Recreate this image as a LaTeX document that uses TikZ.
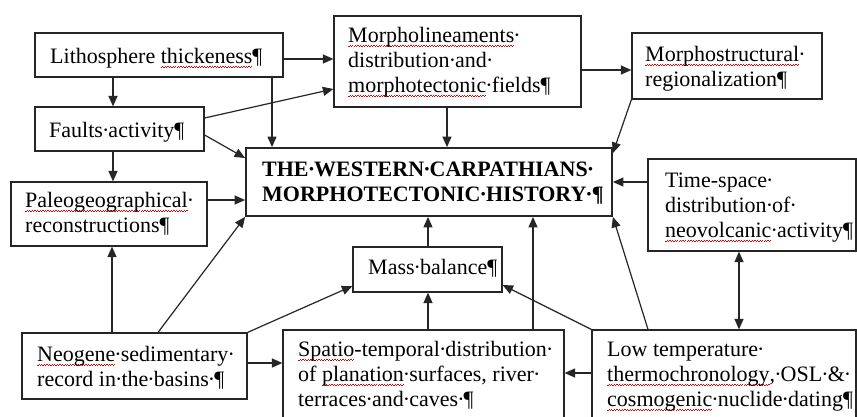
\documentclass[tikz,border=0pt]{standalone}
\usepackage{fontspec}
\setmainfont{Liberation Serif}
\usetikzlibrary{arrows.meta}
\newcommand{\sd}{\makebox[0.25em]{·}}
\newcommand{\pil}{¶}
\newcommand{\mlines}[1]{\begin{tabular}[t]{@{}l@{}}#1\end{tabular}}
\newsavebox{\rwbox}
\newcommand{\wavepiece}{\hbox{\rule[0pt]{1.3pt}{0.7pt}\rule[0.9pt]{1.3pt}{0.7pt}}}
\newcommand{\rw}[1]{\sbox{\rwbox}{#1}\rlap{\raisebox{-4.2pt}[0pt][0pt]{\hbox to\wd\rwbox{\color{red!90!black}\xleaders\wavepiece\hfil}}}\usebox{\rwbox}}
\begin{document}
\begin{tikzpicture}[x=1pt,y=-1pt,
  box/.style={draw=black!85, line width=1.2pt, rectangle, inner sep=0pt},
  mainbox/.style={box, line width=1.8pt},
  txt/.style={font=\fontsize{22}{25.3}\selectfont, anchor=base west, inner sep=0pt},
  arr/.style={draw=black!85, line width=1.2pt, -{Triangle[length=10.5pt,width=9pt]}},
  darr/.style={draw=black!85, line width=1.2pt, {Triangle[length=10.5pt,width=9pt]}-{Triangle[length=10.5pt,width=9pt]}}]
\useasboundingbox (0,0) rectangle (857,416);
\clip (0,0) rectangle (857,416);
\fill[white] (0,0) rectangle (857,416);
% boxes
\node[box, minimum width=248pt, minimum height=44pt] (litho) at (159,55) {};
\node[box, minimum width=169pt, minimum height=44pt] (faults) at (119.5,129) {};
\node[box, minimum width=196pt, minimum height=64pt] (paleo) at (109,214) {};
\node[box, minimum width=247pt, minimum height=91pt] (morpho) at (457.5,61.5) {};
\node[mainbox, minimum width=366pt, minimum height=68pt] (central) at (429,182) {};
\node[box, minimum width=190pt, minimum height=66pt] (mstruct) at (727,66) {};
\node[box, minimum width=208pt, minimum height=92pt] (timesp) at (752,205) {};
\node[box, minimum width=149pt, minimum height=45pt] (mass) at (427.5,269.5) {};
\node[box, minimum width=225pt, minimum height=66pt] (neogene) at (134.5,366) {};
\node[box, minimum width=281pt, minimum height=110pt] (spatio) at (423.5,385) {};
\node[box, minimum width=264pt, minimum height=110pt] (lowt) at (724,385) {};
% texts
\node[txt] (tlitho) at (50,63) {Lithosphere \rw{thickeness}\pil};
\node[txt] (tfaults) at (49,137) {Faults\sd activity\pil};
\node[txt] (tpaleo) at (25,207) {\mlines{\rw{Paleogeographical}\sd\\reconstructions\pil}};
\node[txt] (tmorpho) at (348,42) {\mlines{\rw{Morpholineaments}\sd\\distribution\sd and\sd\\\rw{morphotectonic}\sd fields\pil}};
\node[txt, font=\fontsize{22}{25.3}\selectfont\bfseries] (tcentral) at (262,176) {\mlines{THE\sd WESTERN\sd CARPATHIANS\sd\\MORPHOTECTONIC\sd HISTORY\sd\pil}};
\node[txt] (tmstruct) at (645,61) {\mlines{\rw{Morphostructural}\sd\\regionalization\pil}};
\node[txt] (ttimesp) at (665,187) {\mlines{Time-space\sd\\distribution\sd of\sd\\\rw{neovolcanic}\sd activity\pil}};
\node[txt] (tmass) at (368,274) {Mass\sd balance\pil};
\node[txt] (tneogene) at (37,361) {\mlines{\rw{Neogene}\sd sedimentary\sd\\record in\sd the\sd basins\sd\pil}};
\node[txt] (tspatio) at (298,356) {\mlines{\rw{Spatio}-temporal\sd distribution\sd\\of \rw{planation}\sd surfaces, river\sd\\terraces\sd and\sd caves\sd\pil}};
\node[txt] (tlowt) at (607,356) {\mlines{Low temperature\sd\\\rw{thermochronology},\sd OSL\sd\&\sd\\\rw{cosmogenic}\sd nuclide\sd dating\pil}};
% connectors
\draw[arr] (litho.south -| 113,0) -- (faults.north -| 113,0);
\draw[arr] (litho.east |- 0,59) -- (morpho.west |- 0,59);
\draw[arr] (litho.south -| 272,0) -- (central.north -| 272,0);
\draw[arr] (faults.east |- 0,118) -- (morpho.west |- 0,89);
\draw[arr] (faults.east |- 0,135) -- (central.west |- 0,158);
\draw[arr] (faults.south -| 113,0) -- (paleo.north -| 113,0);
\draw[arr] (paleo.east |- 0,200) -- (central.west |- 0,200);
\draw[arr] (morpho.south -| 447,0) -- (central.north -| 447,0);
\draw[arr] (morpho.east |- 0,70) -- (mstruct.west |- 0,70);
\draw[arr] (mstruct.south west) -- (central.east |- 0,153);
\draw[arr] (timesp.west |- 0,182) -- (central.east |- 0,182);
\draw[darr] (timesp.south -| 739,0) -- (lowt.north -| 739,0);
\draw[arr] (lowt.north -| 648,0) -- (central.south east);
\draw[arr] (lowt.north west) -- (mass.east |- 0,285);
\draw[arr] (lowt.west |- 0,373) -- (spatio.east |- 0,373);
\draw[arr] (spatio.north -| 533,0) -- (central.south -| 533,0);
\draw[arr] (spatio.north -| 428,0) -- (mass.south -| 428,0);
\draw[arr] (mass.north -| 428,0) -- (central.south -| 428,0);
\draw[arr] (neogene.north -| 112,0) -- (paleo.south -| 112,0);
\draw[arr] (neogene.north -| 158,0) -- (central.south west);
\draw[arr] (neogene.north east) -- (mass.west |- 0,286);
\draw[arr] (neogene.east |- 0,363) -- (spatio.west |- 0,363);
\end{tikzpicture}
\end{document}
